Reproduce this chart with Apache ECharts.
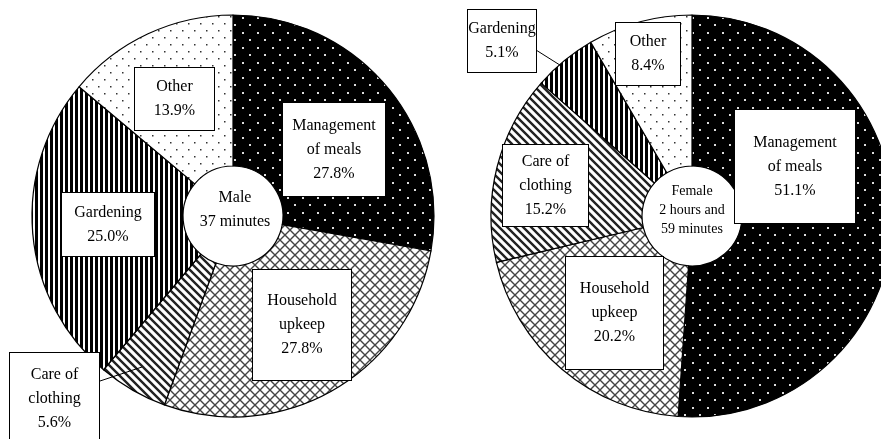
<!DOCTYPE html>
<html>
<head>
<meta charset="utf-8">
<script src="https://cdn.jsdelivr.net/npm/echarts@6/dist/echarts.min.js"></script>
<style>html,body{margin:0;padding:0;background:#fff}#main{width:881px;height:439px}</style>
</head>
<body>
<div id="main"></div>
<script>
// data
var categories = ['Management\nof meals', 'Household\nupkeep', 'Care of\nclothing', 'Gardening', 'Other'];
var maleValues = [27.8, 27.8, 5.6, 25.0, 13.9];
var femaleValues = [51.1, 20.2, 15.2, 5.1, 8.4];
var maleCenter = 'Male\n37 minutes';
var femaleCenter = 'Female\n2 hours and\n59 minutes';

// label boxes: left, top, width, height, padding-top
var maleBoxes = [[283, 103, 102, 93, 10], [253, 270, 98, 110, 10], [10, 353, 89, 92, 5], [62, 193, 92, 63, 9], [135, 68, 79, 62, 9]];
var femaleBoxes = [[735, 110, 120, 113, 11], [566, 257, 97, 112, 11], [503, 145, 85, 81, 8], [468, 10, 68, 62, 10], [616, 23, 64, 62, 9]];
// leader lines from a box to its slice
var leaders = [[[100, 381], [142, 367]], [[536, 50], [563, 67]]];

var LINE_H = 24;
var FONT = '"Liberation Serif", "Times New Roman", serif';

function tile(w, h, draw) {
    var c = document.createElement('canvas');
    c.width = w; c.height = h;
    draw(c.getContext('2d'), w, h);
    return { image: c, repeat: 'repeat' };
}

// fills for each category
var fills = [
    tile(15, 15, function (g, w, h) {
        g.fillStyle = '#000'; g.fillRect(0, 0, w, h);
        g.fillStyle = '#ddd'; g.fillRect(2, 2, 2, 2); g.fillRect(9, 9, 2, 2);
    }),
    tile(10, 10, function (g, w, h) {
        g.fillStyle = '#fff'; g.fillRect(0, 0, w, h);
        g.strokeStyle = '#444'; g.lineWidth = 1.4;
        g.beginPath();
        g.moveTo(-1, -1); g.lineTo(11, 11);
        g.moveTo(-1, 11); g.lineTo(11, -1);
        g.stroke();
    }),
    tile(8, 8, function (g, w, h) {
        g.fillStyle = '#fff'; g.fillRect(0, 0, w, h);
        g.strokeStyle = '#222'; g.lineWidth = 2.4;
        g.beginPath();
        g.moveTo(-2, -2); g.lineTo(10, 10);
        g.moveTo(-10, -2); g.lineTo(2, 10);
        g.moveTo(6, -2); g.lineTo(18, 10);
        g.stroke();
    }),
    tile(5, 5, function (g, w, h) {
        g.fillStyle = '#fff'; g.fillRect(0, 0, w, h);
        g.fillStyle = '#000'; g.fillRect(0, 0, 3, h);
    }),
    tile(12, 14, function (g, w, h) {
        g.fillStyle = '#fff'; g.fillRect(0, 0, w, h);
        g.fillStyle = '#333'; g.fillRect(2, 2, 1.5, 1.5); g.fillRect(8, 9, 1.5, 1.5);
    })
];

function buildData(values, boxes) {
    return values.map(function (v, i) {
        var b = boxes[i];
        var lines = categories[i].split('\n').length + 1;
        var pb = b[3] - b[4] - lines * LINE_H;
        return {
            name: categories[i],
            value: v,
            itemStyle: { color: fills[i] },
            label: { width: b[2], padding: [b[4], 0, pb, 0] }
        };
    });
}

function pieSeries(values, boxes, cx) {
    return {
        type: 'pie',
        center: [cx, 216],
        radius: [50, 201],
        startAngle: 90,
        clockwise: true,
        silent: true,
        avoidLabelOverlap: false,
        itemStyle: { borderColor: '#000', borderWidth: 1.2 },
        label: {
            show: true,
            position: 'inside',
            formatter: function (p) { return p.name + '\n' + p.value.toFixed(1) + '%'; },
            fontFamily: FONT,
            fontSize: 16,
            lineHeight: LINE_H,
            color: '#000',
            align: 'center',
            overflow: 'none',
            backgroundColor: '#fff',
            borderColor: '#000',
            borderWidth: 1
        },
        labelLine: { show: false },
        labelLayout: function (p) {
            var b = boxes[p.dataIndex];
            return { x: b[0] + b[2] / 2, y: b[1] + b[3] / 2, align: 'center', verticalAlign: 'middle' };
        },
        data: buildData(values, boxes)
    };
}

var graphics = [
    { type: 'text', x: 235, y: 210, z: 10, style: { text: maleCenter, font: '16px ' + FONT, lineHeight: 24, align: 'center', verticalAlign: 'middle', fill: '#000' } },
    { type: 'text', x: 692, y: 210, z: 10, style: { text: femaleCenter, font: '14px ' + FONT, lineHeight: 19, align: 'center', verticalAlign: 'middle', fill: '#000' } }
];
leaders.forEach(function (pts) {
    graphics.push({ type: 'polyline', z: 10, shape: { points: pts }, style: { stroke: '#000', lineWidth: 1, fill: null } });
});

var chart = echarts.init(document.getElementById('main'));
chart.setOption({
    backgroundColor: '#fff',
    animation: false,
    series: [
        pieSeries(maleValues, maleBoxes, 233),
        pieSeries(femaleValues, femaleBoxes, 692)
    ],
    graphic: graphics
});
</script>
</body>
</html>
